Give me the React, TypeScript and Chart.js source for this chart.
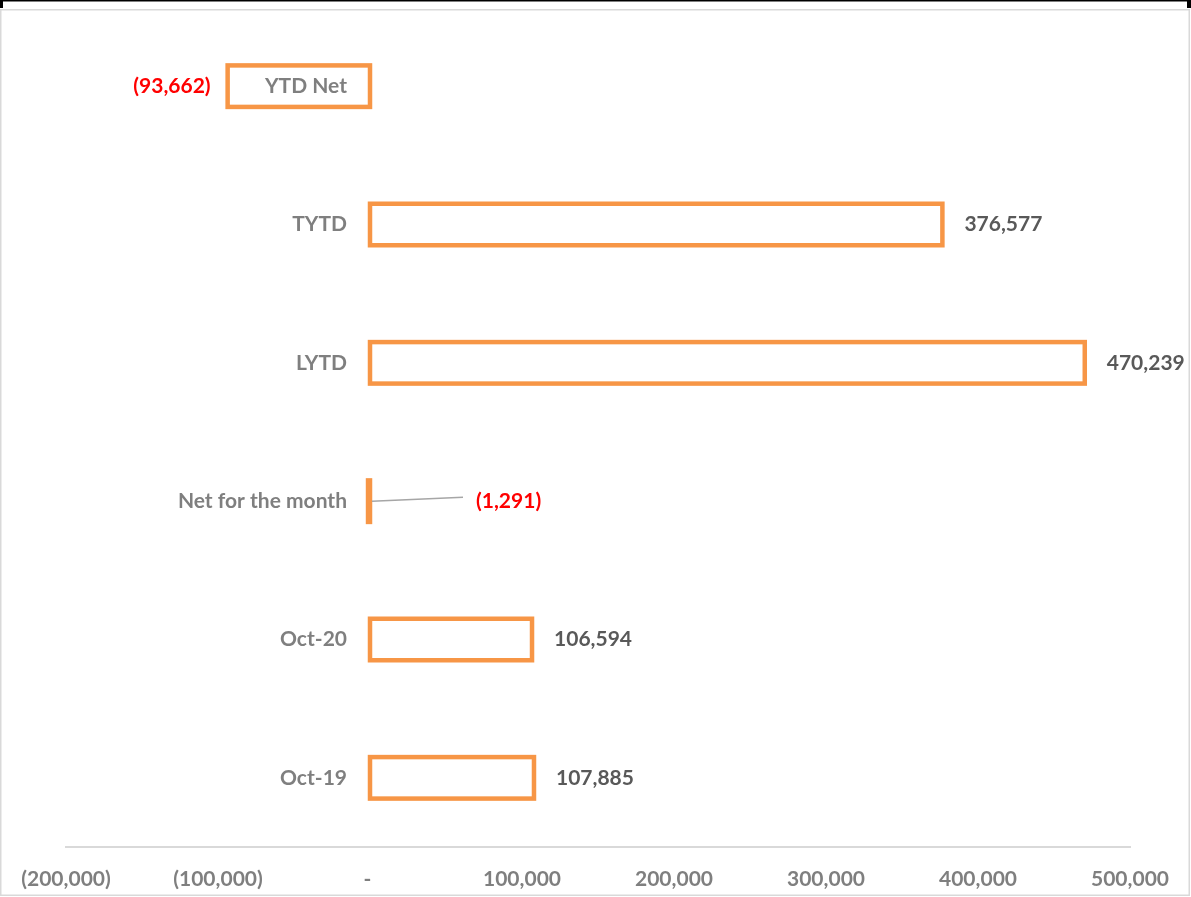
import React, { useEffect, useRef } from 'react';
import { Chart, registerables } from 'chart.js';

Chart.register(...registerables);

const categories = ['YTD Net', 'TYTD', 'LYTD', 'Net for the month', 'Oct-20', 'Oct-19'];
const values = [-93662, 376577, 470239, -1291, 106594, 107885];
const axisMin = -200000;
const axisMax = 500000;
const axisStep = 100000;

const W = 1191;
const H = 897;
const FONT = 'Lato, "Open Sans", sans-serif';
const ORANGE = '#F79646';
const GREY_TEXT = '#7f7f7f';
const DARK_TEXT = '#595959';
const RED = '#ff0000';

const fmt = (v: number) => Math.abs(v).toLocaleString('en-US');
const fmtAcct = (v: number) => (v < 0 ? `(${fmt(v)})` : v === 0 ? '- ' : `${fmt(v)}`);

const framePlugin = {
  id: 'frame',
  beforeDraw(chart: any) {
    const ctx = chart.ctx;
    ctx.save();
    ctx.fillStyle = '#ffffff';
    ctx.fillRect(0, 0, W, H);
    ctx.strokeStyle = '#d9d9d9';
    ctx.lineWidth = 1.5;
    ctx.strokeRect(0.75, 9.75, 1188.5, 885.5);
    ctx.fillStyle = '#000000';
    ctx.fillRect(0, 0, W, 1.5);
    ctx.fillRect(0, 0, 3, 8);
    ctx.fillRect(1187, 0, 4, 8);
    ctx.restore();
  },
};

const labelPlugin = {
  id: 'barLabels',
  afterDatasetsDraw(chart: any) {
    const ctx = chart.ctx;
    const xs = chart.scales.x;
    const ys = chart.scales.y;
    const meta = chart.getDatasetMeta(0);
    ctx.save();
    // bar outlines centred on bar edges (Excel style)
    ctx.strokeStyle = ORANGE;
    ctx.lineWidth = 4.5;
    meta.data.forEach((el: any) => {
      const p = el.getProps(['x', 'y', 'base', 'height'], true);
      const left = Math.min(p.x, p.base);
      const w = Math.abs(p.x - p.base);
      ctx.strokeRect(left, p.y - p.height / 2, w, p.height);
    });
    const zeroX = xs.getPixelForValue(0);
    ctx.font = `bold 21px ${FONT}`;
    ctx.textBaseline = 'middle';
    categories.forEach((cat, i) => {
      const y = ys.getPixelForValue(i);
      ctx.fillStyle = GREY_TEXT;
      ctx.textAlign = 'right';
      ctx.fillText(cat, zeroX - 23, y);
      const v = values[i];
      const px = xs.getPixelForValue(v);
      const txt = fmtAcct(v);
      if (v >= 0) {
        ctx.fillStyle = DARK_TEXT;
        ctx.textAlign = 'left';
        ctx.fillText(txt, px + 22, y);
      } else if (Math.abs(px - zeroX) < 20) {
        const lx = zeroX + 106;
        ctx.strokeStyle = '#a6a6a6';
        ctx.lineWidth = 1.5;
        ctx.beginPath();
        ctx.moveTo(zeroX + 2, y);
        ctx.lineTo(lx - 13, y - 4);
        ctx.stroke();
        ctx.fillStyle = RED;
        ctx.textAlign = 'left';
        ctx.fillText(txt, lx, y);
      } else {
        ctx.fillStyle = RED;
        ctx.textAlign = 'right';
        ctx.fillText(txt, px - 17, y);
      }
    });
    ctx.restore();
  },
};

export default function App() {
  const ref = useRef<HTMLCanvasElement | null>(null);
  useEffect(() => {
    document.body.style.margin = '0';
    if (!ref.current) return;
    const chart = new Chart(ref.current, {
      type: 'bar',
      data: {
        labels: categories,
        datasets: [
          {
            data: values,
            backgroundColor: '#ffffff',
            borderWidth: 0,
            barPercentage: 0.3,
            categoryPercentage: 1,
          },
        ],
      },
      options: {
        indexAxis: 'y',
        responsive: false,
        animation: false,
        layout: { padding: { left: 66, right: 61, top: 17, bottom: 0 } },
        plugins: { legend: { display: false }, tooltip: { enabled: false } },
        scales: {
          y: { display: false },
          x: {
            min: axisMin,
            max: axisMax,
            grid: { display: false, drawTicks: false },
            border: { display: true, color: '#d9d9d9', width: 2 },
            ticks: {
              stepSize: axisStep,
              padding: 20,
              color: GREY_TEXT,
              font: { family: FONT, size: 21, weight: 'bold' },
              maxRotation: 0,
              autoSkip: false,
              callback: (v: any) => fmtAcct(Number(v)),
            },
            afterFit: (s: any) => {
              s.height = 50;
            },
          },
        },
      },
      plugins: [framePlugin, labelPlugin],
    });
    return () => chart.destroy();
  }, []);
  return (
    <div style={{ position: 'absolute', left: 0, top: 0, width: W, height: H }}>
      <canvas ref={ref} width={W} height={H} style={{ width: W, height: H }} />
    </div>
  );
}
